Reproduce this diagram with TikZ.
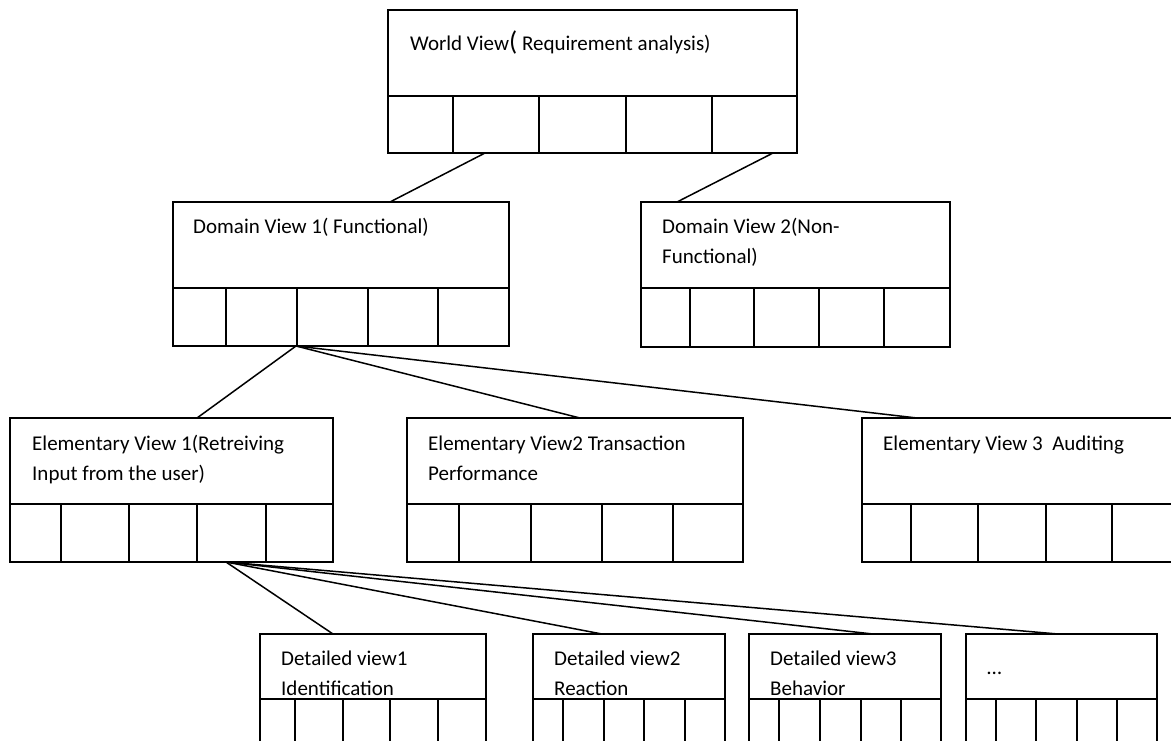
\documentclass[tikz,border=0pt]{standalone}
\usepackage{fontspec}
\setmainfont{Carlito}

% one view: header box (#1), cell row (#1-r) and its dividers
\newcommand{\ViewBox}[7]{%
	\node[viewpart, minimum width={#3-#2}, minimum height={#5-#4}] (#1) at (#2,#4) {};
	\node[viewpart, minimum width={#3-#2}, minimum height={#6-#5}] (#1-r) at (#2,#5) {};
	\foreach \x in {#7} \draw[viewline] (\x,#5) -- (\x,#6);
}

\tikzset{
	viewpart/.style = {draw, line width=1.8pt, anchor=north west, inner sep=0pt, outer sep=0pt},
	viewline/.style = {line width=1.8pt},
	% base west = baseline of the last line
	viewtext/.style = {anchor=base west, inner sep=0pt, align=left, font=\fontsize{21}{30}\selectfont},
	link/.style = {line width=1.5pt}
}

\begin{document}
\begin{tikzpicture}[x=1pt, y=-1pt]
	\useasboundingbox (0,0) rectangle (1171,740);
	\clip (0,0) rectangle (1171,740);
	% world view
	\ViewBox{world}{388}{797}{10}{96}{153}{453,539,626,712}
	\node[viewtext] (world-t) at (410,50) {World View{\fontsize{27}{30}\selectfont(} Requirement analysis)};
	% domain views
	\ViewBox{dom1}{173}{509}{202}{288}{346}{226,297,368,438}
	\ViewBox{dom2}{641}{950}{202}{288}{347}{690,754,819,884}
	\node[viewtext] (dom1-t) at (193,233) {Domain View 1( Functional)};
	\node[viewtext] (dom2-t) at (662,263) {Domain View 2(Non-\\Functional)};
	% elementary views
	\ViewBox{ev1}{10}{333}{418}{504}{562}{61,129,197,266}
	\ViewBox{ev2}{407}{743}{418}{504}{562}{459,531,602,673}
	\ViewBox{ev3}{862}{1240}{418}{504}{562}{911,978,1046,1112,1180}
	\node[viewtext] (ev1-t) at (32,480) {Elementary View 1(Retreiving\\Input from the user)};
	\node[viewtext] (ev2-t) at (428,480) {Elementary View2 Transaction\\Performance};
	\node[viewtext] (ev3-t) at (883,450) {Elementary View 3~~Auditing};
	% detailed views
	\ViewBox{dt1}{260}{486}{634}{699}{780}{295,343,390,438}
	\ViewBox{dt2}{533}{725}{634}{699}{780}{563,604,644,685}
	\ViewBox{dt3}{749}{941}{634}{699}{780}{779,820,861,901}
	\ViewBox{dt4}{966}{1157}{634}{699}{780}{996,1036,1077,1117}
	\node[viewtext] (dt1-t) at (281,695) {Detailed view1\\Identification};
	\node[viewtext] (dt2-t) at (554,695) {Detailed view2\\Reaction};
	\node[viewtext] (dt3-t) at (770,695) {Detailed view3\\Behavior};
	\node[viewtext] (dt4-t) at (987,674) {…};
	% links
	\draw[link] ([xshift=97]world-r.south west) -- ([xshift=217]dom1.north west);
	\draw[link] ([xshift=385]world-r.south west) -- ([xshift=36]dom2.north west);
	\draw[link] ([xshift=123]dom1-r.south west) -- ([xshift=187]ev1.north west);
	\draw[link] ([xshift=123]dom1-r.south west) -- ([xshift=173]ev2.north west);
	\draw[link] ([xshift=123]dom1-r.south west) -- ([xshift=55]ev3.north west);
	\draw[link] ([xshift=216]ev1-r.south west) -- ([xshift=73]dt1.north west);
	\draw[link] ([xshift=216]ev1-r.south west) -- ([xshift=69]dt2.north west);
	\draw[link] ([xshift=216]ev1-r.south west) -- ([xshift=124]dt3.north west);
	\draw[link] ([xshift=216]ev1-r.south west) -- ([xshift=92]dt4.north west);
\end{tikzpicture}
\end{document}
